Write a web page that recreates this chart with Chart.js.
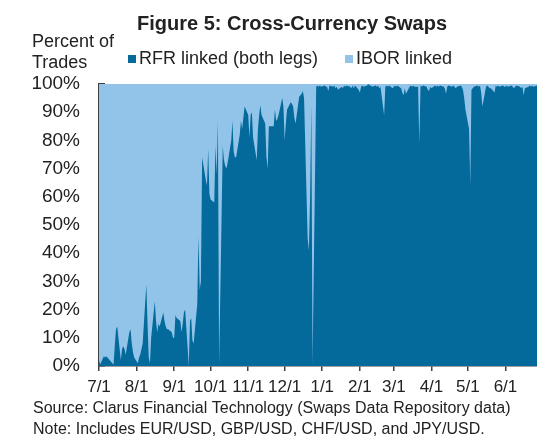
<!DOCTYPE html>
<html>
<head>
<meta charset="utf-8">
<script src="https://cdn.jsdelivr.net/npm/chart.js@4.4.1/dist/chart.umd.min.js"></script>
<style>
  html, body { margin: 0; padding: 0; background: #fff; }
  #wrap { width: 537px; height: 438px; }
</style>
</head>
<body>
<div id="wrap"><canvas id="chart" width="537" height="438"></canvas></div>
<script>
// texts
const titleText = 'Figure 5: Cross-Currency Swaps';
const axisTitle = ['Percent of', 'Trades'];
const seriesNames = ['RFR linked (both legs)', 'IBOR linked'];
const notes = [
  'Source: Clarus Financial Technology (Swaps Data Repository data)',
  'Note: Includes EUR/USD, GBP/USD, CHF/USD, and JPY/USD.'
];

// x axis: business days between these dates, ticks on the 1st of each month
const startDate = '2021-07-01';
const endDate = '2022-06-27';
const tickDates = ['2021-07-01', '2021-08-01', '2021-09-01', '2021-10-01', '2021-11-01', '2021-12-01',
                   '2022-01-01', '2022-02-01', '2022-03-01', '2022-04-01', '2022-05-01', '2022-06-01'];
const tickLabels = ['7/1', '8/1', '9/1', '10/1', '11/1', '12/1', '1/1', '2/1', '3/1', '4/1', '5/1', '6/1'];

// RFR linked share of trades (%), one value per business day, month by month
const rfrJul = [2, 0.5, 3.5, 3, 3.5, 3, 2.5, 1, 0.5, 7, 13, 14, 2, 6, 7, 6, 4, 12, 13, 8, 5, 3];
const rfrAug = [1, 3, 4, 6, 8, 29, 15, 3, 1, 10, 23, 16, 12, 15, 14, 19, 16, 14, 13, 13, 12, 10];
const rfrSep = [10, 18, 17, 16, 12, 15, 19, 20, 0, 16, 17, 9, 8, 22, 46, 27, 30, 74, 66, 64, 77, 61];
const rfrOct = [59, 58, 78, 68, 87, 0.5, 78, 73, 71, 70, 72, 80, 87, 76, 74, 74, 82, 87, 84, 88, 92];
const rfrNov = [89, 81, 89, 90, 81, 73, 84, 89, 92.5, 89, 86, 74, 70, 85, 85, 85, 91, 87, 87.5, 89, 95, 92];
const rfrDec = [80, 86, 91, 93.5, 93, 92, 88, 86, 95.5, 96, 96.5, 97.5, 95, 45, 41, 60, 93, 0.5, 99, 99.5, 99, 99.5, 99];
const rfrJan = [99.5, 99, 99, 97.5, 99.5, 99, 99.5, 98.5, 99, 98, 99, 98.5, 99.5, 99, 99.5, 99, 98.5, 99.5, 98.5, 99.5, 98];
const rfrFeb = [97, 99, 99.5, 99, 99.5, 100, 99.5, 99.5, 99, 99.5, 99, 99.5, 98.5, 99, 89, 99, 99.5, 99, 99.5, 98.5];
const rfrMar = [99, 99.5, 99, 99.5, 98.5, 97, 96, 98.5, 96.5, 99, 99.5, 99, 99.5, 99, 99, 79, 99.5, 99, 99.5, 99, 98, 97.5, 99];
const rfrApr = [98.5, 99.5, 99, 99.5, 99, 99.5, 99, 98.5, 96.5, 99, 99.5, 99, 99.5, 99, 98.5, 99, 99.5, 99, 98, 95, 91];
const rfrMay = [84, 64, 98, 98.5, 99, 99.5, 99, 99.5, 97, 92, 99, 99.5, 99, 98.5, 98.5, 97, 99.5, 99, 99.5, 99, 99.5, 99];
const rfrJun = [99, 99.5, 99, 99.5, 99, 98.5, 99, 99.5, 99, 98.5, 99, 96, 98.5, 99, 99.5, 99, 99.5, 99, 99.5];

const DARK = '#04699B';
const LIGHT = '#92C4E9';
const TEXT = '#222222';
const AXIS = '#404040';
const FONT = '"Liberation Sans", Arial, sans-serif';

const DAY = 86400000;
const t0 = Date.parse(startDate);
const dayOf = s => Math.round((Date.parse(s) - t0) / DAY);

const businessDays = [];
for (let t = t0; t <= Date.parse(endDate); t += DAY) {
  const wd = new Date(t).getUTCDay();
  if (wd !== 0 && wd !== 6) businessDays.push(Math.round((t - t0) / DAY));
}

const rfrShare = [].concat(rfrJul, rfrAug, rfrSep, rfrOct, rfrNov, rfrDec,
                           rfrJan, rfrFeb, rfrMar, rfrApr, rfrMay, rfrJun);
const iborShare = rfrShare.map(v => 100 - v); // the rest of the trades

const toPoints = arr => businessDays.map((d, i) => ({ x: d, y: arr[i] }));

// title, axis title, legend and notes
const extraText = {
  id: 'extraText',
  afterDraw(chart) {
    const c = chart.ctx;
    c.save();
    c.fillStyle = TEXT;
    c.textBaseline = 'alphabetic';
    c.textAlign = 'center';
    c.font = 'bold 20px ' + FONT;
    c.fillText(titleText, 292, 30);

    c.textAlign = 'left';
    c.font = '18px ' + FONT;
    c.fillText(axisTitle[0], 32, 47);
    c.fillText(axisTitle[1], 32, 68);

    const legendX = [128, 345];
    chart.data.datasets.forEach((ds, i) => {
      c.fillStyle = ds.backgroundColor;
      c.fillRect(legendX[i], 55, 8, 8);
      c.fillStyle = TEXT;
      c.fillText(ds.label, legendX[i] + 11, 64);
    });

    c.font = '16px ' + FONT;
    c.fillText(notes[0], 33, 413);
    c.fillText(notes[1], 33, 434);
    c.restore();
  }
};

new Chart(document.getElementById('chart').getContext('2d'), {
  type: 'line',
  data: {
    datasets: [
      {
        label: seriesNames[0],
        data: toPoints(rfrShare),
        backgroundColor: DARK,
        borderColor: DARK,
        borderWidth: 0,
        pointRadius: 0,
        tension: 0,
        fill: 'origin'
      },
      {
        label: seriesNames[1],
        data: toPoints(iborShare),
        backgroundColor: LIGHT,
        borderColor: LIGHT,
        borderWidth: 0,
        pointRadius: 0,
        tension: 0,
        fill: 'origin'
      }
    ]
  },
  options: {
    responsive: false,
    animation: false,
    layout: { padding: { top: 84, left: 0, right: 0, bottom: 0 } },
    plugins: {
      legend: { display: false },
      title: { display: false },
      tooltip: { enabled: false }
    },
    scales: {
      x: {
        type: 'linear',
        min: 0,
        max: businessDays[businessDays.length - 1],
        afterBuildTicks: s => { s.ticks = tickDates.map(d => ({ value: dayOf(d) })); },
        afterFit: s => { s.height = 72; },
        ticks: {
          autoSkip: false,
          maxRotation: 0,
          padding: 6,
          color: TEXT,
          font: { family: FONT, size: 17 },
          callback: (v, i) => tickLabels[i]
        },
        grid: { drawOnChartArea: false, drawTicks: true, tickLength: 5, color: AXIS, lineWidth: 1.5 },
        border: { color: AXIS, width: 1.5 }
      },
      y: {
        stacked: true,
        min: 0,
        max: 100,
        z: 1,
        afterFit: s => { s.width = 99; },
        ticks: {
          stepSize: 10,
          padding: 25,
          color: TEXT,
          font: { family: FONT, size: 19 },
          callback: v => v + '%'
        },
        grid: { drawOnChartArea: false, drawTicks: true, tickLength: -6, color: AXIS, lineWidth: 1.5 },
        border: { color: AXIS, width: 1.5 }
      }
    }
  },
  plugins: [extraText]
});
</script>
</body>
</html>
